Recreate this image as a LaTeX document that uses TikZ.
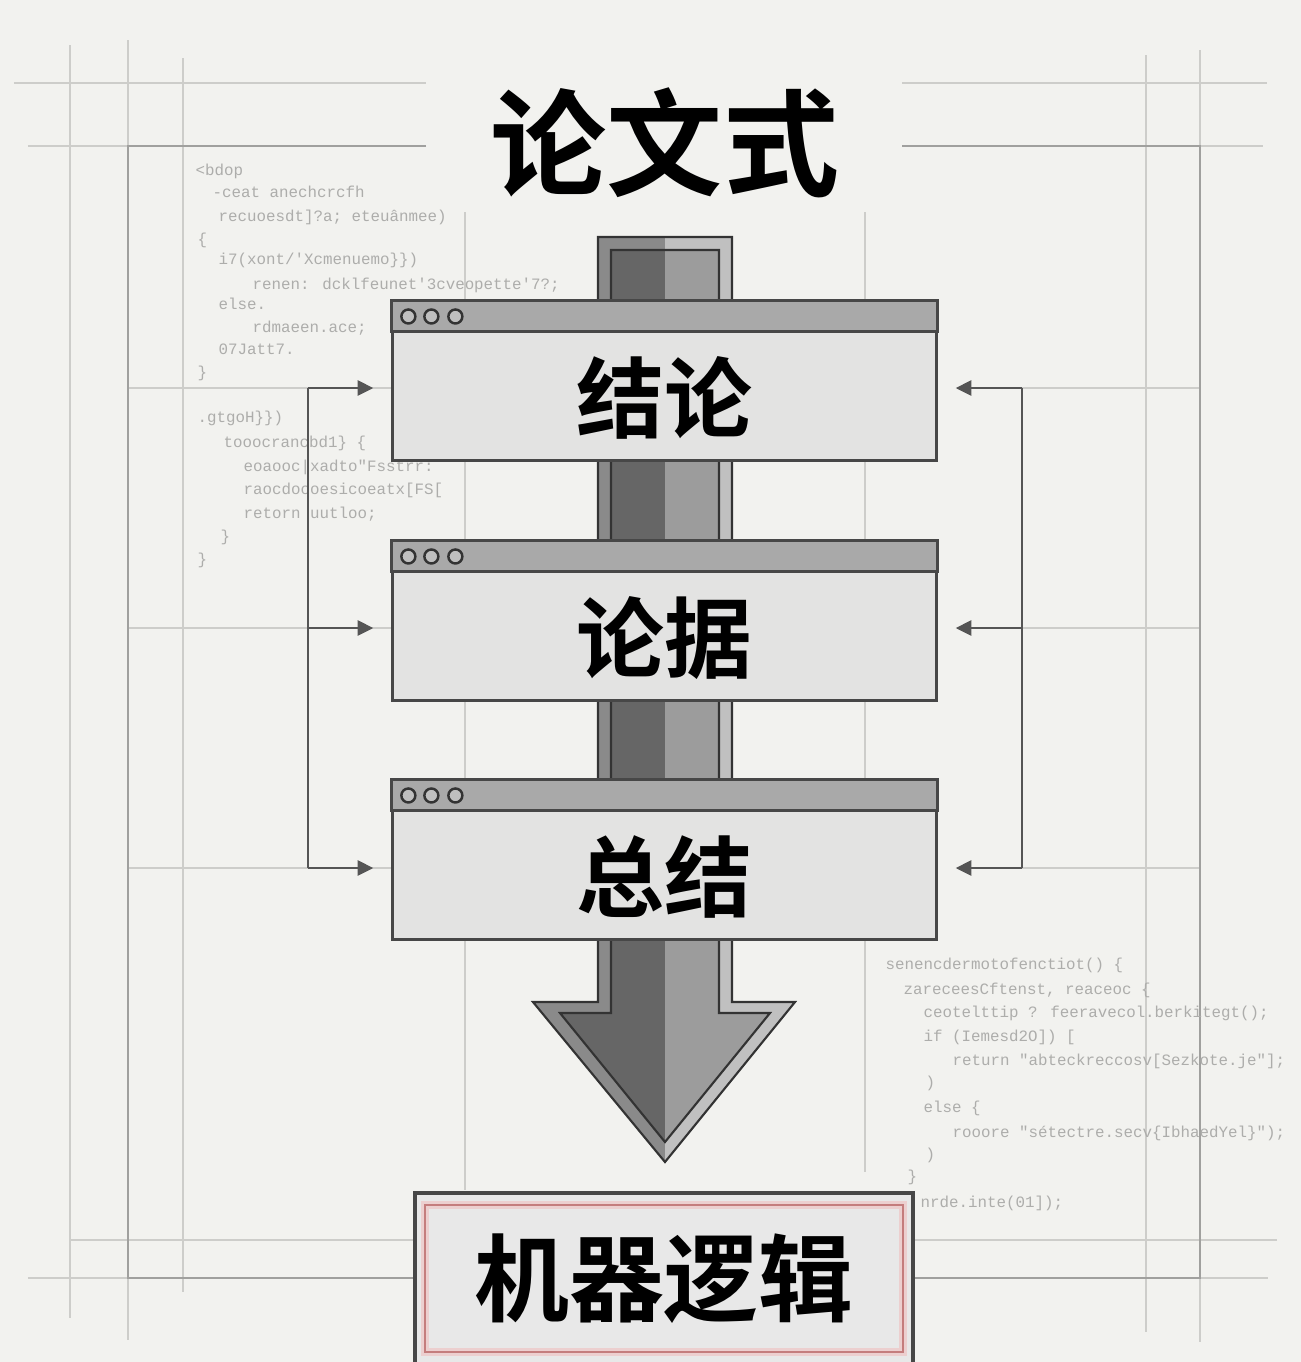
\documentclass[tikz,border=0pt]{standalone}
\usepackage{fontspec}
\newfontfamily\cjk{Noto Sans CJK SC}[BoldFont={Noto Sans CJK SC Bold}]
\newfontfamily\codefont{Liberation Mono}
\usetikzlibrary{arrows.meta,calc,positioning}

\definecolor{paper}{HTML}{F2F2EF}
\definecolor{gridlt}{HTML}{CDCDCA}
\definecolor{griddk}{HTML}{A0A09E}
\definecolor{codegray}{HTML}{ADADAB}
\definecolor{boxline}{HTML}{474747}
\definecolor{boxbody}{HTML}{E3E3E2}
\definecolor{boxbar}{HTML}{A9A9A9}
\definecolor{connc}{HTML}{555555}
\definecolor{shaftdk}{HTML}{666666}
\definecolor{shaftlt}{HTML}{9C9C9C}
\definecolor{framedk}{HTML}{8A8A8A}
\definecolor{framelt}{HTML}{C0C0C0}
\definecolor{redline}{HTML}{C47D7D}
\definecolor{redglow}{HTML}{ECCFCF}

\tikzset{
  gridl/.style={gridlt, line width=0.55pt},
  gridd/.style={griddk, line width=0.8pt},
  codeln/.style={font=\codefont\fontsize{4.5}{5}\selectfont, text=codegray, anchor=base west, inner sep=0pt},
  winbox/.style={draw=boxline, line width=0.85pt, fill=boxbody, minimum width=5.43cm, minimum height=1.58cm, inner sep=0pt},
  winbar/.style={draw=boxline, line width=0.85pt, fill=boxbar},
  windot/.style={draw=black!80, line width=0.7pt, fill=black!25},
  lbl/.style={font=\cjk\bfseries\fontsize{25}{25}\selectfont, inner sep=0pt},
  ttl/.style={font=\cjk\bfseries\fontsize{33}{33}\selectfont, inner sep=0pt},
  logicbox/.style={draw=boxline, line width=1.1pt, fill=black!9, minimum width=4.98cm, minimum height=1.71cm, inner sep=0pt, font=\cjk\bfseries\fontsize{27}{27}\selectfont},
  arrline/.style={draw=black!80, line width=0.6pt, line join=miter},
  conn/.style={connc, line width=0.75pt, -{Triangle[length=4.5pt,width=4.3pt]}, shorten >=0.18cm},
  trunk/.style={connc, line width=0.75pt},
}

\begin{document}
\begin{tikzpicture}[x=0.01cm, y=-0.01cm]
\useasboundingbox (0,0) rectangle (1301,1362);
\fill[paper] (0,0) rectangle (1301,1362);

% guide lines
\draw[gridl] (14,83) -- (426,83);
\draw[gridl] (28,146) -- (128,146);
\draw[gridl] (902,83) -- (1267,83);
\draw[gridl] (1200,146) -- (1263,146);
\draw[gridl] (70,1240) -- (415,1240);
\draw[gridl] (915,1240) -- (1277,1240);
\draw[gridl] (28,1278) -- (128,1278);
\draw[gridl] (1200,1278) -- (1268,1278);
\draw[gridl] (70,45) -- (70,1318);
\draw[gridl] (183,58) -- (183,1292);
\draw[gridl] (128,40) -- (128,146);
\draw[gridl] (128,1278) -- (128,1340);
\draw[gridl] (1146,55) -- (1146,1332);
\draw[gridl] (1200,50) -- (1200,146);
\draw[gridl] (1200,1278) -- (1200,1342);
\draw[gridl] (465,212) -- (465,1190);
\draw[gridl] (865,212) -- (865,1172);
\foreach \y in {388,628,868}{
  \draw[gridl] (128,\y) -- (393,\y);
  \draw[gridl] (1022,\y) -- (1200,\y);
}
\draw[gridd] (426,146) -- (128,146) -- (128,1278) -- (415,1278);
\draw[gridd] (902,146) -- (1200,146) -- (1200,1278) -- (915,1278);

% code in the background
\foreach \x/\y/\s [count=\i] in {
  195/175/{<bdop},
  212/197/{-ceat anechcrcfh},
  218/221/{recuoesdt]?a; eteuânmee)},
  197/244/{\{},
  218/264/{i7(xont/'Xcmenuemo\}\})},
  252/289/{renen: dcklfeunet'3cveopette'7?;},
  218/309/{else.},
  252/332/{rdmaeen.ace;},
  218/354/{07Jatt7.},
  197/377/{\}},
  197/422/{.gtgoH\}\})},
  223/447/{tooocrancbd1\} \{},
  243/471/{eoaooc|xadto"Fsstrr:},
  243/494/{raocdocoesicoeatx[FS[},
  243/518/{retorn uutloo;},
  220/541/{\}},
  197/564/{\}}}
  \node[codeln] (ca\i) at (\x,\y) {\s};
\foreach \x/\y/\s [count=\i] in {
  885/969/{senencdermotofenctiot() \{},
  903/994/{zareceesCftenst, reaceoc \{},
  923/1017/{ceotelttip ? feeravecol.berkitegt();},
  923/1041/{if (Iemesd2O]) [},
  952/1065/{return "abteckreccosv[Sezkote.je"];},
  925/1087/{)},
  923/1112/{else \{},
  952/1137/{rooore "sétectre.secv\{IbhaedYel\}");},
  925/1159/{)},
  907/1181/{\}},
  920/1207/{nrde.inte(01]);}}
  \node[codeln] (cb\i) at (\x,\y) {\s};

% big arrow
\fill[framedk] (598,237) -- (665,237) -- (665,1162) -- (533,1002) -- (598,1002) -- cycle;
\fill[framelt] (665,237) -- (732,237) -- (732,1002) -- (795,1002) -- (665,1162) -- cycle;
\fill[shaftdk] (611,250) -- (665,250) -- (665,1142) -- (560,1013) -- (611,1013) -- cycle;
\fill[shaftlt] (665,250) -- (719,250) -- (719,1013) -- (770,1013) -- (665,1142) -- cycle;
\draw[arrline] (598,237) -- (732,237) -- (732,1002) -- (795,1002) -- (665,1162) -- (533,1002) -- (598,1002) -- cycle;
\draw[arrline] (611,250) -- (719,250) -- (719,1013) -- (770,1013) -- (665,1142) -- (560,1013) -- (611,1013) -- cycle;

% window boxes
\foreach \n/\y/\t in {b1/381/结论, b2/621/论据, b3/860/总结}{
  \node[winbox] (\n) at (664.5,\y) {};
  \draw[winbar] (\n.north west) rectangle ([yshift=-0.31cm]\n.north east);
  \foreach \d in {0.17cm,0.40cm,0.64cm}
    \draw[windot] ([xshift=\d,yshift=-0.16cm]\n.north west) circle (0.07cm);
  \node[lbl] (t\n) at ([yshift=-0.17cm]\n.center) {\t};
}

% feedback connectors
\coordinate (l1) at (308,388);
\coordinate (l2) at (308,628);
\coordinate (l3) at (308,868);
\coordinate (r1) at (1022,388);
\coordinate (r2) at (1022,628);
\coordinate (r3) at (1022,868);
\draw[trunk] (l1) -- (l3);
\draw[trunk] (r1) -- (r3);
\foreach \i in {1,2,3}{
  \draw[conn] (l\i) -- (l\i -| b\i.west);
  \draw[conn] (r\i) -- (r\i -| b\i.east);
}

% title and result
\node[ttl] (title) at (665,143) {论文式};
\node[logicbox] (mach) at (664,1278.5) {机器逻辑};
\draw[redglow, line width=2.2pt] ([shift={(0.12cm,-0.14cm)}]mach.north west) rectangle ([shift={(-0.12cm,0.14cm)}]mach.south east);
\draw[redline, line width=0.7pt] ([shift={(0.12cm,-0.14cm)}]mach.north west) rectangle ([shift={(-0.12cm,0.14cm)}]mach.south east);
\end{tikzpicture}
\end{document}
